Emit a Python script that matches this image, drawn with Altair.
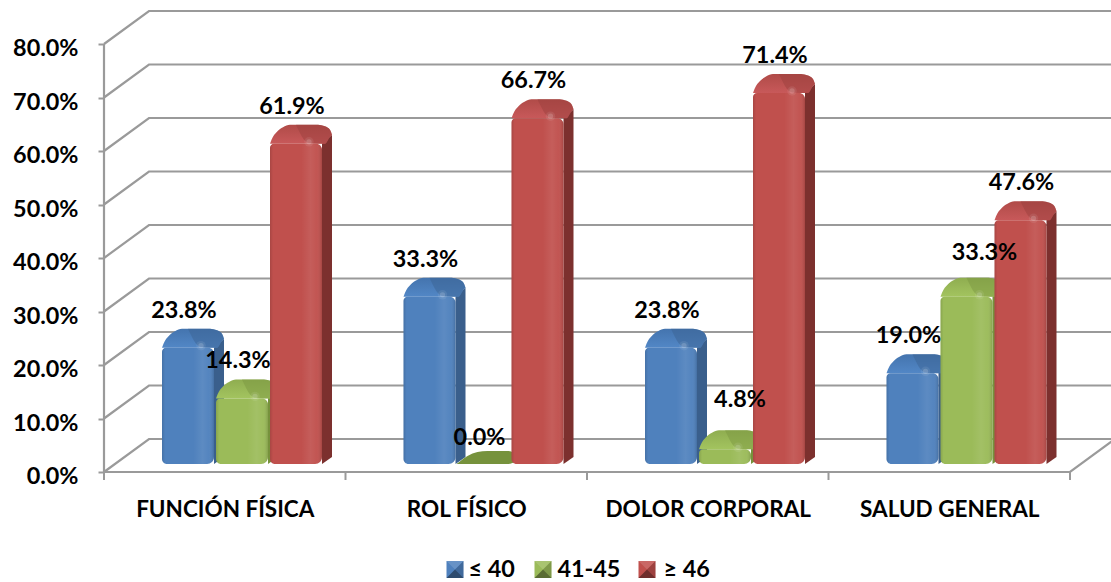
import altair as alt
import pandas as pd

categories = ["FUNCIÓN FÍSICA", "ROL FÍSICO", "DOLOR CORPORAL", "SALUD GENERAL"]
series_names = ["≤ 40", "41-45", "≥ 46"]
low_group = [23.8, 33.3, 23.8, 19.0]
mid_group = [14.3, 0.0, 4.8, 33.3]
high_group = [61.9, 66.7, 71.4, 47.6]
tick_values = [0, 10, 20, 30, 40, 50, 60, 70, 80]

base_colors = ["#4F81BD", "#9BBB59", "#C0504D"]
side_colors = ["#3A5F8C", "#76923C", "#7C302E"]
cap_top_colors = ["#4474AE", "#8FAD50", "#B04B48"]
cap_low_colors = ["#5287C6", "#A3C45F", "#C8595A"]
cap_dark_colors = ["#3B6494", "#7B9842", "#9C403E"]

FONT = "Lato"
INK = "#000000"
GRID = "#9A9A9A"

# Pixel sizes of the drawing, converted to data units below
PX_CAT = 241.5
PX_PCT = 5.35
PLOT_W, PLOT_H = 1007, 461
GROUP_START, BAR_PITCH, BAR_W, SIDE_W = 58, 54, 52, 10
BASE_LIFT = 8
DEPTH_X, DEPTH_Y = 45 / PX_CAT, 33 / PX_PCT
BASE = BASE_LIFT / PX_PCT

x_scale = alt.Scale(domain=[0, PLOT_W / PX_CAT], nice=False, zero=False)
y_scale = alt.Scale(domain=[0, PLOT_H / PX_PCT], nice=False, zero=False)
color_scale = alt.Scale(domain=series_names, range=base_colors)

series_values = [low_group, mid_group, high_group]


def left_edge(cat, ser):
    return cat + (GROUP_START + ser * BAR_PITCH) / PX_CAT


def px_x(px):
    return px / PX_CAT


def px_y(px):
    return px / PX_PCT


x_axis = alt.Axis(
    values=[0.5, 1.5, 2.5, 3.5],
    labelExpr="[" + ",".join(f"'{c}'" for c in categories) + "][floor(datum.value)]",
    ticks=False, domain=False, grid=False, labelPadding=26, labelFont=FONT, labelFontWeight="bold",
    labelFontSize=22.5, labelColor=INK, labelOverlap=False, labelFlush=False, labelAngle=0, labelLimit=0,
    title=None,
)
y_axis = alt.Axis(
    values=tick_values, labelExpr="format(datum.value, '.1f') + '%'", domain=False, grid=False,
    tickSize=6, tickWidth=2, tickColor=GRID, labelPadding=20, labelFont=FONT, labelFontWeight="bold",
    labelFontSize=23.4, labelColor=INK, labelOverlap=False, labelOffset=4.5, labelLimit=0, title=None,
)
x_enc = alt.X("x:Q", scale=x_scale, axis=x_axis)
y_enc = alt.Y("y:Q", scale=y_scale, axis=y_axis)

# Wall and floor lines of the box
wall_rows = []
for t in tick_values:
    wall_rows += [
        {"line": t, "x": 0, "y": t, "o": 0},
        {"line": t, "x": DEPTH_X, "y": t + DEPTH_Y, "o": 1},
        {"line": t, "x": 4 + DEPTH_X, "y": t + DEPTH_Y, "o": 2},
    ]
wall_rows += [
    {"line": -1, "x": 0, "y": 0, "o": 0},
    {"line": -1, "x": 4, "y": 0, "o": 1},
    {"line": -1, "x": 4 + DEPTH_X, "y": DEPTH_Y, "o": 2},
]

walls = alt.Chart(pd.DataFrame(wall_rows)).mark_line(color=GRID, strokeWidth=2.2).encode(
    x=x_enc, y=y_enc, detail="line:N", order="o:Q"
)

axis_line = alt.Chart(pd.DataFrame({"x": [0], "y": [0], "y2": [tick_values[-1]]})).mark_rule(
    color=GRID, strokeWidth=2.2
).encode(x=x_enc, y=y_enc, y2="y2:Q")

x_ticks = alt.Chart(pd.DataFrame({"x": [0, 1, 2, 3, 4], "y": [0] * 5, "y2": [-px_y(8)] * 5})).mark_rule(
    color=GRID, strokeWidth=2
).encode(x=x_enc, y=y_enc, y2="y2:Q")

shade = alt.Gradient(
    gradient="linear", x1=0, x2=1, y1=0, y2=0,
    stops=[
        alt.GradientStop(color="rgba(0,0,0,0.12)", offset=0),
        alt.GradientStop(color="rgba(0,0,0,0)", offset=0.06),
        alt.GradientStop(color="rgba(255,255,255,0)", offset=0.6),
        alt.GradientStop(color="rgba(255,255,255,0.08)", offset=0.78),
        alt.GradientStop(color="rgba(255,255,255,0.03)", offset=0.9),
        alt.GradientStop(color="rgba(0,0,0,0.14)", offset=1),
    ],
)

# Outline of a bar's rounded top: offset along the bar, upper edge, lower edge (pixels above the value)
cap_outline = [
    (0, -3, -3), (1.5, 1, -3), (7, 9, -3), (13, 13.5, -3), (20, 16, -3), (BAR_W - 4, 16, -3),
    (BAR_W + 3, 14.5, -3), (BAR_W + 8, 11, 4), (BAR_W + SIDE_W, 6, 6),
]
cap_facet = [
    (BAR_W - 26, 16, 16), (BAR_W - 14, 16, -2), (BAR_W - 4, 16, -3), (BAR_W + 3, 14.5, -3),
    (BAR_W + 8, 11, 4), (BAR_W + SIDE_W, 6, 6),
]
# The empty bar has only a flattened top resting on the floor
flat_outline = [
    (-1, 0, 0), (3, 3, 0), (10, 8, 0), (20, 12, 0), (30, 13, 0), (BAR_W - 2, 13, 0), (BAR_W + 3, 12, 1), (BAR_W + SIDE_W, 6, 6),
]

layers = [walls, axis_line, x_ticks]

for s, name in enumerate(series_names):
    fronts, sides, caps, facets, flats, spots = [], [], [], [], [], []
    for c, value in enumerate(series_values[s]):
        left = left_edge(c, s)
        right = left + px_x(BAR_W)
        if value == 0:
            for off, up, low in flat_outline:
                flats.append({"bar": c, "x": left + px_x(off), "y": BASE + px_y(up), "y2": BASE + px_y(low)})
            continue
        front_top = value - px_y(3)
        fronts.append({"x": left, "x2": right, "y": front_top, "y2": BASE, "series": name})
        sides += [
            {"bar": c, "x": right, "y": front_top, "y2": BASE},
            {"bar": c, "x": right + px_x(SIDE_W), "y": value + px_y(6), "y2": BASE + px_y(7)},
        ]
        for off, up, low in cap_outline:
            caps.append({"bar": c, "x": left + px_x(off), "y": value + px_y(up), "y2": value + px_y(low)})
        for off, up, low in cap_facet:
            facets.append({"bar": c, "x": left + px_x(off), "y": value + px_y(up), "y2": value + px_y(low)})
        spots.append({"x": right - px_x(13), "y": value - px_y(1)})

    layers.append(
        alt.Chart(pd.DataFrame(sides)).mark_area(color=side_colors[s]).encode(
            x=x_enc, y=y_enc, y2="y2:Q", detail="bar:N"
        )
    )
    cap_fill = alt.Gradient(
        gradient="linear", x1=0, x2=0, y1=0, y2=1,
        stops=[
            alt.GradientStop(color=cap_top_colors[s], offset=0),
            alt.GradientStop(color=cap_low_colors[s], offset=1),
        ],
    )
    layers.append(
        alt.Chart(pd.DataFrame(caps)).mark_area(color=cap_fill, interpolate="monotone").encode(
            x=x_enc, y=y_enc, y2="y2:Q", detail="bar:N"
        )
    )
    layers.append(
        alt.Chart(pd.DataFrame(facets)).mark_area(color=cap_dark_colors[s], interpolate="monotone", opacity=0.5).encode(
            x=x_enc, y=y_enc, y2="y2:Q", detail="bar:N"
        )
    )
    if flats:
        layers.append(
            alt.Chart(pd.DataFrame(flats)).mark_area(color=side_colors[s], interpolate="monotone").encode(
                x=x_enc, y=y_enc, y2="y2:Q", detail="bar:N"
            )
        )
    front_df = pd.DataFrame(fronts)
    layers.append(
        alt.Chart(front_df).mark_rect(
            cornerRadiusTopLeft=4, cornerRadiusTopRight=6, cornerRadiusBottomLeft=5, cornerRadiusBottomRight=7
        ).encode(
            x=x_enc, x2="x2:Q", y=y_enc, y2="y2:Q",
            color=alt.Color(
                "series:N", scale=color_scale, title=None,
                legend=alt.Legend(
                    orient="none", direction="horizontal", legendX=338, legendY=547, padding=0,
                    symbolType="square", symbolSize=310, symbolStrokeWidth=0, symbolOpacity=0, columnPadding=16,
                    labelFont=FONT, labelFontWeight="bold", labelFontSize=23.4, labelColor=INK, labelOffset=3,
                    labelLimit=0,
                ),
            ),
        )
    )
    layers.append(
        alt.Chart(front_df).mark_rect(
            color=shade, cornerRadiusTopLeft=4, cornerRadiusTopRight=6,
            cornerRadiusBottomLeft=5, cornerRadiusBottomRight=7,
        ).encode(x=x_enc, x2="x2:Q", y=y_enc, y2="y2:Q")
    )
    for size, alpha in [(90, 0.08), (28, 0.16)]:
        layers.append(
            alt.Chart(pd.DataFrame(spots)).mark_point(
                filled=True, color="white", opacity=alpha, size=size, strokeWidth=0
            ).encode(x=x_enc, y=y_enc)
        )

# Value labels: default position above the bar, with a few moved clear of their neighbours
label_shift = {(1, 2): (19, 12), (1, 3): (22, 7), (2, 3): (5, 0)}
label_rows = []
for s in range(3):
    for c, value in enumerate(series_values[s]):
        dx, dy = label_shift.get((s, c), (0, 0))
        label_rows.append({
            "x": left_edge(c, s) + px_x(BAR_PITCH / 2 - 5 + dx),
            "y": value + px_y(34 + dy),
            "text": f"{value:.1f}%",
        })
value_labels = alt.Chart(pd.DataFrame(label_rows)).mark_text(
    font=FONT, fontWeight="bold", fontSize=23.4, color=INK, align="center", baseline="middle"
).encode(x=x_enc, y=y_enc, text="text:N")
layers.append(value_labels)

# Legend swatches: a flat square with shaded pyramid faces over it
swatch_x = [455, 543, 647]
square_path = "M-1,-1L1,-1L1,1L-1,1Z"
swatch_faces = [
    ("M-1,-1L1,-1L0,0Z", "white", 0.14),
    ("M1,-1L1,1L0,0Z", "black", 0.18),
    ("M-1,1L1,1L0,0Z", "black", 0.42),
]
for sx, tint in zip(swatch_x, base_colors):
    faces = [(square_path, tint, 1)] + swatch_faces
    for path, tone, alpha in faces:
        layers.append(
            alt.Chart(pd.DataFrame({"k": [0]})).mark_point(
                shape=path, filled=True, color=tone, opacity=alpha, size=289, strokeWidth=0
            ).encode(x=alt.value(sx - 104), y=alt.value(569.5 - 11), detail="k:N")
        )

chart = alt.layer(*layers).properties(
    width=PLOT_W,
    height=PLOT_H,
    autosize=alt.AutoSizeParams(type="none"),
    padding={"left": 104, "top": 11, "right": 0, "bottom": 110},
).configure_view(stroke=None)

chart.save("out.html", embed_options={"renderer": "svg", "actions": False})
